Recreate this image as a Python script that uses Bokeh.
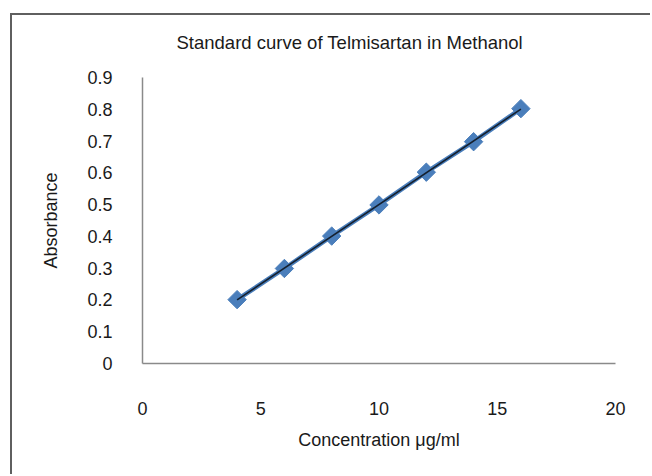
import numpy as np
from bokeh.plotting import figure
from bokeh.models import Range1d, FixedTicker
from bokeh.embed import file_html
from bokeh.resources import INLINE

# Data
concentration = [4, 6, 8, 10, 12, 14, 16]
absorbance = [0.201, 0.299, 0.401, 0.499, 0.602, 0.698, 0.802]
x_ticks = [0, 5, 10, 15, 20]
y_ticks = [0, 0.1, 0.2, 0.3, 0.4, 0.5, 0.6, 0.7, 0.8, 0.9]

FONT = "Liberation Sans"
TXT = "#1a1a1a"

p = figure(width=650, height=474, output_backend="svg", toolbar_location=None,
           x_range=Range1d(0, 20), y_range=Range1d(0, 0.9),
           min_border_left=142, min_border_right=35,
           min_border_top=77, min_border_bottom=111,
           title="Standard curve of Telmisartan in Methanol")
p.border_fill_color = None
p.styles = {
    "background-color": "white",
    "background-image": "linear-gradient(#5f5f5f, #5f5f5f), linear-gradient(#5f5f5f, #5f5f5f)",
    "background-position": "10px 13px, 10px 13px",
    "background-size": "2px 100%, 100% 2px",
    "background-repeat": "no-repeat, no-repeat",
}

p.outline_line_color = None
p.xgrid.grid_line_color = None
p.ygrid.grid_line_color = None

p.title.text_font = FONT
p.title.text_font_size = "18.5px"
p.title.text_font_style = "normal"
p.title.text_color = TXT
p.title.align = "left"
p.title.offset = 34
p.title.standoff = 50

for ax in (p.xaxis[0], p.yaxis[0]):
    ax.axis_line_color = "#8a8a8a"
    ax.axis_line_width = 1.5
    ax.major_tick_line_color = None
    ax.minor_tick_line_color = None
    ax.major_tick_out = 0
    ax.major_tick_in = 0
    ax.major_label_text_font = FONT
    ax.major_label_text_font_size = "18px"
    ax.major_label_text_color = TXT
    ax.axis_label_text_font = FONT
    ax.axis_label_text_font_size = "18px"
    ax.axis_label_text_font_style = "normal"
    ax.axis_label_text_color = TXT

p.xaxis.ticker = FixedTicker(ticks=x_ticks)
p.yaxis.ticker = FixedTicker(ticks=y_ticks)
p.xaxis.major_label_overrides = {t: str(t) for t in x_ticks}
p.yaxis.major_label_overrides = {t: ("0" if t == 0 else f"{t:.1f}") for t in y_ticks}
p.xaxis.axis_label = "Concentration μg/ml"
p.yaxis.axis_label = "Absorbance"
p.xaxis.major_label_standoff = 38
p.yaxis.major_label_standoff = 30
p.xaxis.axis_label_standoff = 12
p.yaxis.axis_label_standoff = 23

# series line and markers
p.line(concentration, absorbance, line_color="#4a7ebb", line_width=4.5)
p.scatter(concentration, absorbance, marker="square", angle=np.pi / 4,
          size=13, fill_color="#4a7ebb", line_color="#4a7ebb")

# linear trendline (least-squares fit of the data)
slope, intercept = np.polyfit(concentration, absorbance, 1)
tx = [min(concentration), max(concentration)]
ty = [slope * v + intercept for v in tx]
p.line(tx, ty, line_color="#15202e", line_width=1.6)

open("out.html", "w").write(file_html(p, INLINE))
